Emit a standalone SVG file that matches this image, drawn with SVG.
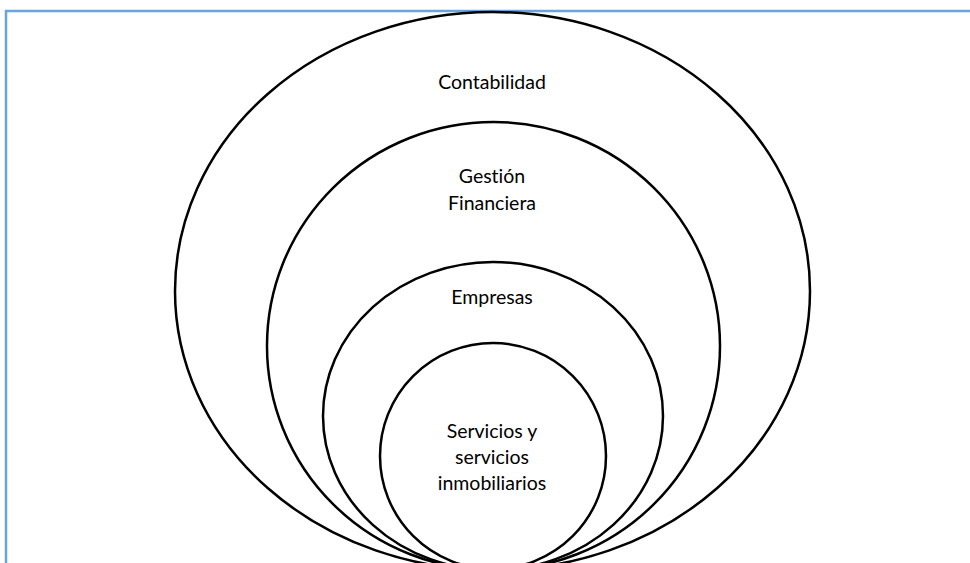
<svg xmlns="http://www.w3.org/2000/svg" width="970" height="563" viewBox="0 0 970 563">
<style>
.ring{fill:none;stroke:#000;stroke-width:2.5}
.lbl{font-family:Lato,"Liberation Sans",sans-serif;font-size:19.5px;fill:#000;text-anchor:middle;font-variant-ligatures:none}
.frame{stroke:#6aa4dc;stroke-width:2.5;fill:none}
</style>
<rect width="970" height="563" fill="#fff"/>
<path class="frame" d="M6,563 V11 H970"/>
<g id="contabilidad">
<ellipse class="ring" cx="492.5" cy="291" rx="317.5" ry="279"/>
<text class="lbl" x="492" y="89">Contabilidad</text>
</g>
<g id="gestion">
<ellipse class="ring" cx="493.5" cy="346" rx="226.5" ry="224"/>
<text class="lbl" x="492" y="183">Gestión</text>
<text class="lbl" x="492" y="210">Financiera</text>
</g>
<g id="empresas">
<ellipse class="ring" cx="493" cy="416" rx="170" ry="154"/>
<text class="lbl" x="492" y="304">Empresas</text>
</g>
<g id="servicios">
<ellipse class="ring" cx="493" cy="456" rx="113" ry="113"/>
<text class="lbl" x="492" y="438">Servicios y</text>
<text class="lbl" x="492" y="464">servicios</text>
<text class="lbl" x="492" y="490">inmobiliarios</text>
</g>
<g id="connectors"/>
</svg>
